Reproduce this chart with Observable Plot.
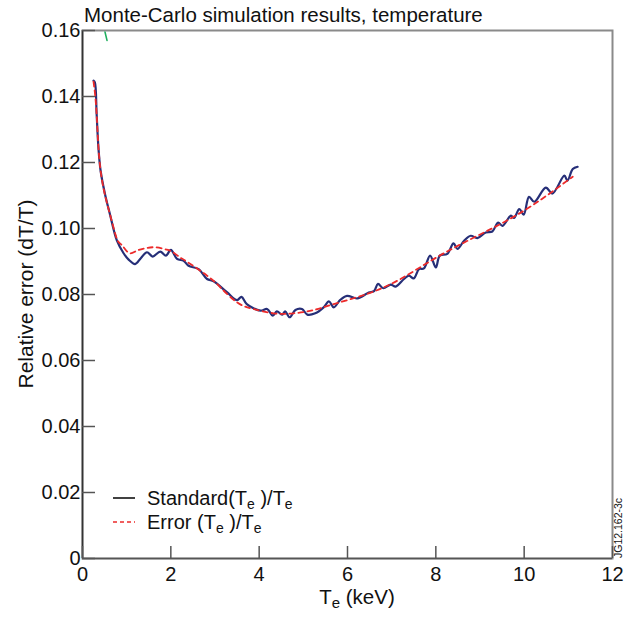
<!DOCTYPE html>
<html><head><meta charset="utf-8">
<script src="https://cdn.jsdelivr.net/npm/d3@7"></script>
<script src="https://cdn.jsdelivr.net/npm/@observablehq/plot@0.6"></script>
<style>body{margin:0;background:#fff} svg text{font-family:"Liberation Sans",Arial,sans-serif}</style>
</head><body><div id="chart"></div>
<script>
const title = "Monte-Carlo simulation results, temperature";
const yLabel = "Relative error (dT/T)";
const xTicks = [0, 2, 4, 6, 8, 10, 12];
const yTicks = [0, 0.02, 0.04, 0.06, 0.08, 0.10, 0.12, 0.14, 0.16];
const yTickLabels = ["0", "0.02", "0.04", "0.06", "0.08", "0.10", "0.12", "0.14", "0.16"];
const seriesNames = ["Standard", "Error "];

// Standard(Te)/Te  (solid navy)
const stdX = [0.25,0.28,0.32,0.36,0.41,0.51,0.62,0.78,0.93,1.05,1.19,1.32,1.46,1.59,1.76,1.89,2.00,2.14,2.29,2.40,2.63,2.82,2.97,3.27,3.50,3.60,3.72,4.03,4.18,4.31,4.40,4.52,4.59,4.69,4.82,4.97,5.09,5.27,5.46,5.58,5.69,5.83,5.99,6.22,6.48,6.60,6.69,6.81,6.98,7.09,7.28,7.39,7.50,7.62,7.73,7.87,8.00,8.09,8.26,8.40,8.49,8.64,8.79,8.94,9.13,9.28,9.41,9.51,9.70,9.77,9.89,9.99,10.11,10.23,10.49,10.64,10.91,10.98,11.10,11.21];
const stdY = [0.1448,0.1443,0.1347,0.1246,0.1175,0.1104,0.1044,0.0963,0.0925,0.0905,0.0892,0.0910,0.0928,0.0915,0.0930,0.0918,0.0935,0.0908,0.0902,0.0887,0.0877,0.0847,0.0840,0.0807,0.0783,0.0793,0.0771,0.0751,0.0756,0.0736,0.0749,0.0739,0.0749,0.0731,0.0753,0.0756,0.0739,0.0743,0.0761,0.0779,0.0761,0.0783,0.0796,0.0788,0.0806,0.0810,0.0832,0.0819,0.0830,0.0824,0.0847,0.0857,0.0849,0.0877,0.0879,0.0918,0.0882,0.0918,0.0923,0.0955,0.0938,0.0963,0.0978,0.0971,0.0988,0.0991,0.1018,0.1008,0.1039,0.1032,0.1059,0.1042,0.1096,0.1081,0.1124,0.1106,0.1160,0.1145,0.1180,0.1187];

// Error(Te)/Te  (dashed red)
const errX = [0.25,0.32,0.41,0.62,0.78,0.89,1.05,1.22,1.42,1.65,1.90,2.05,2.21,2.36,2.82,3.12,3.50,3.87,4.33,4.78,5.24,5.69,6.45,7.20,7.96,8.72,9.47,10.23,11.10];
const errY = [0.1445,0.1347,0.1175,0.1044,0.0968,0.0950,0.0926,0.0932,0.0940,0.0943,0.0936,0.0928,0.0912,0.0900,0.0857,0.0822,0.0776,0.0756,0.0743,0.0743,0.0753,0.0771,0.0802,0.0847,0.0908,0.0963,0.1014,0.1074,0.1157];

// small green fragment near the top
const greenX = [0.51, 0.555];
const greenY = [0.1595, 0.157];

const std = stdX.map((x, i) => ({x, y: stdY[i]}));
const err = errX.map((x, i) => ({x, y: errY[i]}));
const grn = greenX.map((x, i) => ({x, y: greenY[i]}));

const NAVY = "#262f78", RED = "#ec2a2a", GREEN = "#1fae5e";

const chart = Plot.plot({
  width: 624, height: 617,
  marginLeft: 82, marginRight: 12, marginTop: 30, marginBottom: 59,
  style: {fontFamily: "Liberation Sans, Arial, sans-serif", fontSize: "20px", color: "#111", background: "#fff", overflow: "visible"},
  x: {domain: [0, 12]},
  y: {domain: [0, 0.16]},
  marks: [
    Plot.frame({stroke: "#8a8a8a", strokeWidth: 2}),
    Plot.ruleX([0], {stroke: "#333", strokeWidth: 1.6}),
    Plot.ruleY([0], {stroke: "#555", strokeWidth: 1.6}),
    Plot.axisX(xTicks, {tickSize: -12, tickPadding: 20, stroke: "#555", strokeWidth: 1.5, label: null, fontSize: 20, fill: "#111", tickFormat: d => String(d)}),
    Plot.axisY(yTicks, {tickSize: -13, tickPadding: 15, stroke: "#555", strokeWidth: 1.5, label: null, fontSize: 20, fill: "#111", tickFormat: d => yTickLabels[yTicks.indexOf(d)]}),
    Plot.line(grn, {x: "x", y: "y", stroke: GREEN, strokeWidth: 1.6}),
    Plot.line(std, {x: "x", y: "y", stroke: NAVY, strokeWidth: 2.2, curve: "catmull-rom"}),
    Plot.line(err, {x: "x", y: "y", stroke: RED, strokeWidth: 1.8, strokeDasharray: "5,4", curve: "natural"})
  ]
});
document.getElementById("chart").appendChild(chart);

const svg = d3.select(chart);
svg.append("text").attr("x", 84).attr("y", 22).attr("text-anchor", "start").attr("font-size", 20.5).attr("fill", "#111").text(title);

// x label with subscript
const xl = svg.append("text").attr("x", 357).attr("y", 604).attr("text-anchor", "middle").attr("font-size", 20.5).attr("fill", "#111");
xl.append("tspan").text("T");
xl.append("tspan").attr("font-size", 15).attr("dy", 4).text("e");
xl.append("tspan").attr("dy", -4).text(" (keV)");

svg.append("text").attr("transform", "translate(33,294) rotate(-90)").attr("text-anchor", "middle")
  .attr("font-size", 21).attr("fill", "#111").text(yLabel);

// legend
const legendStyles = [{stroke: "#111", dash: null}, {stroke: RED, dash: "4,3"}];
seriesNames.forEach((name, i) => {
  const cy = 498 + i * 24;
  svg.append("line").attr("x1", 113).attr("x2", 135).attr("y1", cy).attr("y2", cy)
    .attr("stroke", legendStyles[i].stroke).attr("stroke-width", 1.6).attr("stroke-dasharray", legendStyles[i].dash);
  const t = svg.append("text").attr("x", 147).attr("y", cy + 7).attr("text-anchor", "start").attr("font-size", 20).attr("fill", "#111");
  t.append("tspan").text(name + "(T");
  t.append("tspan").attr("font-size", 14).attr("dy", 4).text("e");
  t.append("tspan").attr("dy", -4).text(" )/T");
  t.append("tspan").attr("font-size", 14).attr("dy", 4).text("e");
});

svg.append("text").attr("transform", "translate(622,558) rotate(-90)").attr("text-anchor", "start")
  .attr("font-size", 10.5).attr("fill", "#111").text("JG12.162-3c");
</script>
</body></html>
